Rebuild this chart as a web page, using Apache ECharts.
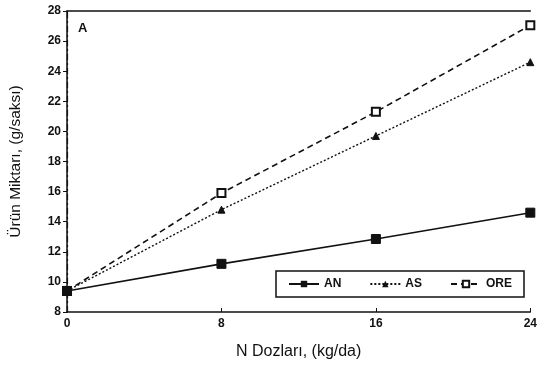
<!DOCTYPE html>
<html><head><meta charset="utf-8">
<script src="https://cdn.jsdelivr.net/npm/echarts@6/dist/echarts.min.js"></script>
<style>html,body{margin:0;padding:0;background:#fff}#c{width:540px;height:368px}</style>
</head><body><div id="c"></div>
<script>
const doses = [0, 8, 16, 24];
const an = [9.4, 11.2, 12.85, 14.6];
const as = [9.4, 14.8, 19.7, 24.6];
const ore = [9.4, 15.9, 21.3, 27.05];
const xTicks = [0, 8, 16, 24];
const yTicks = [8, 10, 12, 14, 16, 18, 20, 22, 24, 26, 28];

const pairs = v => doses.map((d, i) => [d, v[i]]);
const font = 'Liberation Sans, Arial, sans-serif';
const chart = echarts.init(document.getElementById('c'));
chart.setOption({
  animation: false,
  grid: { left: 67, right: 4, top: 11, bottom: 56 },
  xAxis: [{
    type: 'value', min: 0, max: 24, interval: 8,
    name: 'N Dozları, (kg/da)', nameLocation: 'middle', nameGap: 32,
    nameTextStyle: { fontFamily: font, fontSize: 16, color: '#111' },
    axisLine: { lineStyle: { color: '#111', width: 1.5 } },
    axisTick: { inside: true, length: 4, lineStyle: { color: '#111' } },
    axisLabel: { fontFamily: font, fontWeight: 'bold', fontSize: 12, color: '#111', margin: 6 },
    splitLine: { show: false }
  }, {
    type: 'value', min: 0, max: 24, position: 'top',
    axisLine: { lineStyle: { color: '#111', width: 1.5 } },
    axisTick: { show: false }, axisLabel: { show: false }, splitLine: { show: false }
  }],
  yAxis: [{
    type: 'value', min: 8, max: 28, interval: 2,
    name: 'Ürün Miktarı, (g/saksı)', nameLocation: 'middle', nameGap: 43,
    nameTextStyle: { fontFamily: font, fontSize: 15.5, color: '#111' },
    axisLine: { lineStyle: { color: '#111', width: 1.5 } },
    axisTick: { length: 4, lineStyle: { color: '#111' } },
    axisLabel: { fontFamily: font, fontWeight: 'bold', fontSize: 12, color: '#111', margin: 6 },
    splitLine: { show: false }
  }, {
    type: 'value', min: 8, max: 28, position: 'right',
    axisLine: { show: true, lineStyle: { color: '#111', width: 1.2, type: [6, 3, 2, 3] } },
    axisTick: { show: false }, axisLabel: { show: false }, splitLine: { show: false }
  }],
  graphic: [{
    type: 'text', left: 78, top: 22,
    style: { text: 'A', font: 'bold 13px ' + font, fill: '#111' }
  }],
  legend: {
    left: 276, top: 271, width: 238, height: 16,
    padding: [7, 12, 7, 12],
    borderColor: '#111', borderWidth: 1.5,
    itemWidth: 30, itemHeight: 8, itemGap: 28,
    textStyle: { fontFamily: font, fontWeight: 'bold', fontSize: 12, color: '#111' },
    data: ['AN', 'AS', 'ORE']
  },
  series: [{
    name: 'ORE', type: 'line', data: pairs(ore),
    symbol: 'rect', symbolSize: 8,
    lineStyle: { color: '#111', width: 1.6, type: [6, 4] },
    itemStyle: { color: '#fff', borderColor: '#111', borderWidth: 2 }
  }, {
    name: 'AS', type: 'line', data: pairs(as),
    symbol: 'triangle', symbolSize: 7,
    lineStyle: { color: '#111', width: 1.4, type: [2, 2] },
    itemStyle: { color: '#111', borderColor: '#111' }
  }, {
    name: 'AN', type: 'line', data: pairs(an),
    symbol: 'rect', symbolSize: 9,
    lineStyle: { color: '#111', width: 1.6, type: 'solid' },
    itemStyle: { color: '#111', borderColor: '#111' }
  }]
});
</script>
</body></html>
